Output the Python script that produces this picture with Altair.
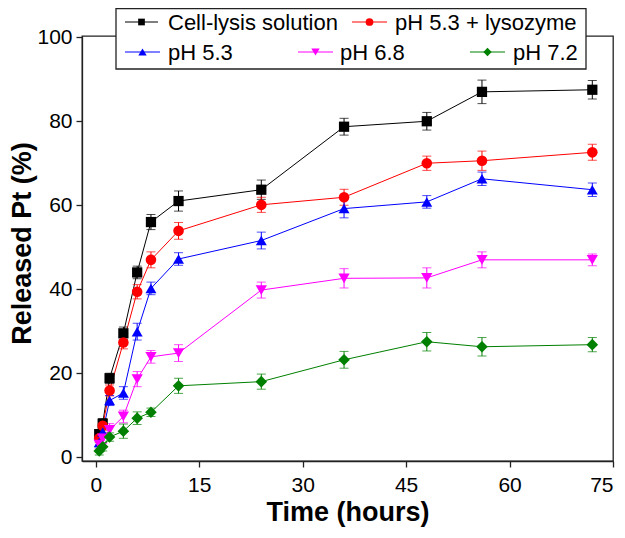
import altair as alt
import pandas as pd

# ---------------- data ----------------
series = ["Cell-lysis solution", "pH 5.3 + lysozyme", "pH 5.3", "pH 6.8", "pH 7.2"]
colors = ["#000000", "#ff0000", "#0000ff", "#ff00ff", "#008000"]
shapes = ["square", "circle", "triangle-up", "triangle-down", "diamond"]
marker_sizes = [105, 135, 150, 150, 170]

time_h = [0.5, 1, 2, 4, 6, 8, 12, 24, 36, 48, 56, 72]

cell_lysis = [5.5, 8.0, 18.8, 29.5, 44.0, 56.0, 61.0, 63.7, 78.7, 80.0, 87.0, 87.5]
cell_lysis_err = [1.0, 1.2, 1.2, 1.5, 1.5, 1.8, 2.4, 2.3, 2.0, 2.1, 2.8, 2.2]
ph53_lyso = [4.5, 7.5, 15.9, 27.3, 39.4, 47.0, 53.9, 60.1, 61.9, 70.0, 70.6, 72.6]
ph53_lyso_err = [1.0, 1.2, 1.3, 1.5, 1.7, 1.9, 2.0, 1.8, 1.9, 1.7, 2.3, 1.9]
ph53 = [3.5, 6.0, 13.5, 15.3, 29.9, 40.2, 47.2, 51.6, 59.2, 60.8, 66.3, 63.7]
ph53_err = [1.0, 1.0, 1.2, 1.5, 2.0, 1.5, 1.5, 2.0, 2.2, 1.5, 1.6, 1.6]
ph68 = [3.0, 4.5, 6.5, 9.7, 18.6, 23.9, 24.8, 39.8, 42.6, 42.7, 47.0, 47.0]
ph68_err = [1.0, 1.2, 1.5, 1.5, 1.8, 1.5, 2.0, 1.9, 2.3, 2.4, 1.9, 1.4]
ph72 = [1.5, 2.5, 4.8, 6.2, 9.3, 10.7, 17.0, 18.0, 23.2, 27.5, 26.3, 26.8]
ph72_err = [1.0, 1.0, 1.0, 1.7, 1.5, 1.0, 1.8, 1.8, 2.0, 2.2, 2.2, 1.7]

x_ticks = [0, 15, 30, 45, 60, 75]
y_ticks = [0, 20, 40, 60, 80, 100]

values = [cell_lysis, ph53_lyso, ph53, ph68, ph72]
errors = [cell_lysis_err, ph53_lyso_err, ph53_err, ph68_err, ph72_err]

rows = []
for name, vals, errs in zip(series, values, errors):
    for t, v, e in zip(time_h, vals, errs):
        rows.append({"series": name, "time": t, "value": v, "lo": v - e, "hi": v + e})
df = pd.DataFrame(rows)

FONT = "Liberation Sans"

color_enc = alt.Color("series:N", scale=alt.Scale(domain=series, range=colors), legend=None)
shape_enc = alt.Shape("series:N", scale=alt.Scale(domain=series, range=shapes), legend=None)
size_enc = alt.Size("series:N", scale=alt.Scale(domain=series, range=marker_sizes), legend=None)

x_enc = alt.X(
    "time:Q",
    scale=alt.Scale(domain=[-2, 75], nice=False, zero=False),
    axis=alt.Axis(values=x_ticks, title="Time (hours)", format="d"),
)
y_enc = alt.Y(
    "value:Q",
    scale=alt.Scale(domain=[-0.9, 100.3], nice=False, zero=False),
    axis=alt.Axis(values=y_ticks, title="Released Pt (%)", format="d", titleY=207),
)

base = alt.Chart(df)

lines = base.mark_line(strokeWidth=1).encode(x=x_enc, y=y_enc, color=color_enc, detail="series:N")
err_rule = base.mark_rule(strokeWidth=1).encode(x="time:Q", y="lo:Q", y2="hi:Q", color=color_enc)
cap_lo = base.mark_tick(orient="horizontal", size=9, thickness=1).encode(x="time:Q", y="lo:Q", color=color_enc)
cap_hi = base.mark_tick(orient="horizontal", size=9, thickness=1).encode(x="time:Q", y="hi:Q", color=color_enc)
points = base.mark_point(filled=True, opacity=1).encode(
    x="time:Q", y="value:Q", color=color_enc, shape=shape_enc, size=size_enc
)

# ---------------- manual legend (layout in plot-pixel coordinates) ----------------
one = pd.DataFrame({"k": [0]})
legend_layers = [
    alt.Chart(one).mark_rect(fill="white", stroke="#222", strokeWidth=1.3).encode(
        x=alt.value(34), x2=alt.value(504), y=alt.value(-27.5), y2=alt.value(33)
    )
]
# (line start, line end, row y, text x) per legend entry
legend_layout = [
    (43, 76, -14, 86),
    (270, 305, -14, 313),
    (43, 78, 16, 86),
    (216, 251, 16, 258),
    (388, 423, 16, 431),
]
legend_sizes = [45, 60, 70, 70, 70]
for name, col, shp, lsz, (x0, x1, yy, tx) in zip(series, colors, shapes, legend_sizes, legend_layout):
    legend_layers.append(
        alt.Chart(one).mark_rule(color=col, strokeWidth=1.2).encode(
            x=alt.value(x0), x2=alt.value(x1), y=alt.value(yy)
        )
    )
    legend_layers.append(
        alt.Chart(one).mark_point(filled=True, opacity=1, color=col, shape=shp, size=lsz).encode(
            x=alt.value((x0 + x1) / 2), y=alt.value(yy)
        )
    )
    legend_layers.append(
        alt.Chart(one).mark_text(
            text=name, align="left", baseline="middle", fontSize=22, font=FONT, color="black", dy=1
        ).encode(x=alt.value(tx), y=alt.value(yy))
    )

chart = (
    alt.layer(lines, err_rule, cap_lo, cap_hi, points, *legend_layers)
    .properties(
        width=531,
        height=425,
        autosize=alt.AutoSizeParams(type="none"),
        padding={"left": 74, "top": 28, "right": 4, "bottom": 69},
    )
    .configure_view(stroke="#222", strokeWidth=1.3)
    .configure_axis(
        grid=False,
        domainColor="#222",
        domainWidth=1.3,
        tickColor="#222",
        tickWidth=1.3,
        tickSize=6,
        labelFont=FONT,
        labelFontSize=21,
        labelColor="black",
        titleFont=FONT,
        titleFontSize=27,
        titleFontWeight="bold",
        titleColor="black",
    )
    .configure_axisX(labelPadding=7, titlePadding=4)
    .configure_axisY(labelPadding=4, titlePadding=0)
)

chart.save("out.html", embed_options={"renderer": "svg", "actions": False})
